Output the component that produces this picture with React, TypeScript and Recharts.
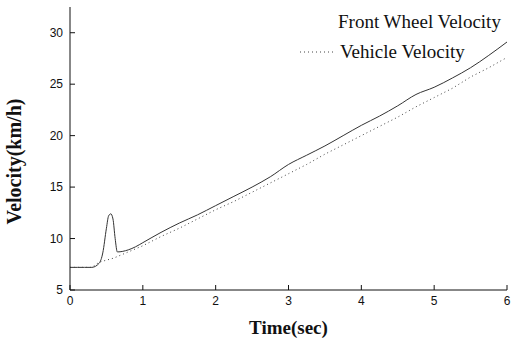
import React from 'react';
import { LineChart, Line, XAxis, YAxis, Label } from 'recharts';

// front wheel speed: flat start, slip spike around 0.55 s, then steady climb
const frontTime = [0, 0.1, 0.2, 0.3, 0.4, 0.45, 0.5, 0.53, 0.56, 0.59, 0.62, 0.65, 0.8, 0.9, 1.0, 1.25, 1.5, 1.75, 2.0, 2.25, 2.5, 2.75, 3.0, 3.25, 3.5, 3.75, 4.0, 4.25, 4.5, 4.75, 5.0, 5.25, 5.5, 5.75, 6.0];
const frontVelocity = [7.2, 7.2, 7.2, 7.2, 7.6, 8.6, 11.0, 12.2, 12.4, 11.9, 10.0, 8.7, 8.9, 9.2, 9.6, 10.6, 11.5, 12.3, 13.2, 14.1, 15.0, 16.0, 17.2, 18.1, 19.0, 20.0, 21.0, 21.9, 22.9, 24.0, 24.7, 25.6, 26.6, 27.8, 29.1];

const vehicleTime = [0, 0.1, 0.2, 0.3, 0.4, 0.5, 0.6, 0.7, 0.8, 0.9, 1.0, 1.25, 1.5, 1.75, 2.0, 2.25, 2.5, 2.75, 3.0, 3.25, 3.5, 3.75, 4.0, 4.25, 4.5, 4.75, 5.0, 5.25, 5.5, 5.75, 6.0];
const vehicleVelocity = [7.2, 7.2, 7.2, 7.2, 7.7, 7.9, 8.1, 8.4, 8.7, 9.0, 9.3, 10.2, 11.0, 11.9, 12.8, 13.6, 14.5, 15.4, 16.3, 17.2, 18.2, 19.1, 20.0, 20.9, 21.8, 22.8, 23.7, 24.6, 25.7, 26.6, 27.6];

const xTicks = [0, 1, 2, 3, 4, 5, 6];
const yTicks = [5, 10, 15, 20, 25, 30];

const frontData = frontTime.map((t, i) => ({ t, v: frontVelocity[i] }));
const vehicleData = vehicleTime.map((t, i) => ({ t, v: vehicleVelocity[i] }));

const tickFont = { fontFamily: 'Liberation Sans, Arial, sans-serif', fontSize: 12, fill: '#111' };
const serif = 'Liberation Serif, Times New Roman, serif';

export default function App() {
  return (
    <div style={{ position: 'absolute', left: 0, top: 0, width: 515, height: 340, background: '#fff' }}>
      <LineChart width={515} height={340} margin={{ top: 7, right: 8, bottom: 0, left: 0 }}>
        <XAxis
          type="number"
          dataKey="t"
          domain={[0, 6]}
          ticks={xTicks}
          allowDataOverflow
          height={50}
          tickSize={-5}
          tickMargin={11}
          tick={tickFont}
          stroke="#111"
        >
          <Label
            value="Time(sec)"
            position="insideBottom"
            offset={6}
            style={{ fontFamily: serif, fontSize: 19, fontWeight: 'bold', fill: '#111' }}
          />
        </XAxis>
        <YAxis
          type="number"
          dataKey="v"
          domain={[5, 32.5]}
          ticks={yTicks}
          allowDataOverflow
          width={70}
          tickSize={-5}
          tickMargin={12}
          tick={tickFont}
          stroke="#111"
        >
          <Label
            value="Velocity(km/h)"
            angle={-90}
            position="center"
            dx={-21}
            dy={13}
            style={{ fontFamily: serif, fontSize: 20, fontWeight: 'bold', fill: '#111', textAnchor: 'middle' }}
          />
        </YAxis>
        <Line
          data={frontData}
          dataKey="v"
          stroke="#333"
          strokeWidth={1}
          dot={false}
          type="monotone"
          isAnimationActive={false}
        />
        <Line
          data={vehicleData}
          dataKey="v"
          stroke="#444"
          strokeWidth={1}
          strokeDasharray="1 3"
          dot={false}
          type="linear"
          isAnimationActive={false}
        />
      </LineChart>
      <div
        style={{
          position: 'absolute',
          left: 298,
          top: 7,
          fontFamily: serif,
          fontSize: 19,
          color: '#111',
          lineHeight: '30px',
        }}
      >
        <div style={{ paddingLeft: 40 }}>Front Wheel Velocity</div>
        <div style={{ display: 'flex', alignItems: 'center' }}>
          <svg width={38} height={10}>
            <line x1={2} y1={5} x2={36} y2={5} stroke="#444" strokeDasharray="1 3" />
          </svg>
          <span style={{ marginLeft: 4 }}>Vehicle Velocity</span>
        </div>
      </div>
    </div>
  );
}
